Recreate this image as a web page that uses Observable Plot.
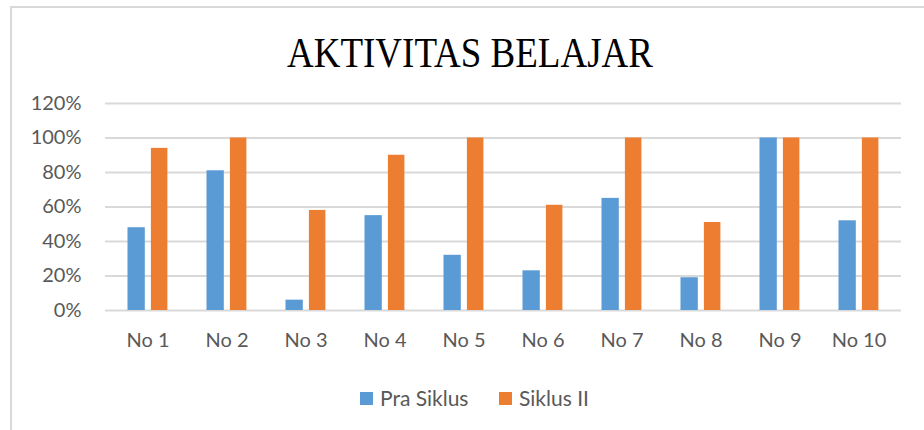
<!DOCTYPE html>
<html>
<head>
<meta charset="utf-8">
<script src="https://cdn.jsdelivr.net/npm/d3@7"></script>
<script src="https://cdn.jsdelivr.net/npm/@observablehq/plot@0.6"></script>
<style>
  html, body { margin: 0; padding: 0; background: #fff; width: 924px; height: 430px; overflow: hidden; }
  #frame { position: absolute; left: 10px; top: 6px; width: 1000px; height: 600px; border: 2px solid #d9d9d9; box-sizing: border-box; }
  #title { position: absolute; top: 36px; left: 470px; transform: translateX(-50%) scaleY(1.13); transform-origin: 50% 31px;
           font-family: "Liberation Serif", "Times New Roman", serif; font-size: 37px; line-height: 37px; color: #000; white-space: nowrap; }
  #chart { position: absolute; left: 0; top: 90px; }
  .leg { position: absolute; top: 388px; display: flex; align-items: center; font-family: Lato, sans-serif; font-size: 21px; color: #595959; line-height: 20px; }
  .sw { width: 13px; height: 13px; margin-right: 7px; }
</style>
</head>
<body>
<div id="frame"></div>
<div id="title">AKTIVITAS BELAJAR</div>
<div id="chart"></div>
<div id="legend"></div>
<script>
const categories = ["No 1", "No 2", "No 3", "No 4", "No 5", "No 6", "No 7", "No 8", "No 9", "No 10"];
const seriesNames = ["Pra Siklus", "Siklus II"];
const praSiklus = [0.48, 0.81, 0.06, 0.55, 0.32, 0.23, 0.65, 0.19, 1.00, 0.52];
const siklusII = [0.94, 1.00, 0.58, 0.90, 1.00, 0.61, 1.00, 0.51, 1.00, 1.00];
const colors = ["#5B9BD5", "#ED7D31"];
const yTicks = [0, 0.2, 0.4, 0.6, 0.8, 1.0, 1.2];

const pra = categories.map((c, i) => ({cat: c, value: praSiklus[i]}));
const sik = categories.map((c, i) => ({cat: c, value: siklusII[i]}));

const chart = Plot.plot({
  width: 924,
  height: 270,
  marginLeft: 105,
  marginRight: 23,
  marginTop: 13,
  marginBottom: 50,
  style: {fontFamily: "Lato, sans-serif", fontSize: "20px", color: "#595959", background: "transparent"},
  x: {domain: categories, padding: 0, label: null},
  y: {domain: [0, 1.2], ticks: yTicks, label: null},
  marks: [
    Plot.gridY(yTicks, {stroke: "#d9d9d9", strokeOpacity: 1, strokeWidth: 2}),
    Plot.axisY(yTicks, {tickSize: 0, tickPadding: 0, dx: -24, tickFormat: d3.format(".0%"), fill: "#595959", fontSize: 20, label: null}),
    Plot.axisX({tickSize: 0, tickPadding: 22, fill: "#595959", fontSize: 20, label: null}),
    Plot.barY(pra, {x: "cat", y: "value", fill: colors[0], insetLeft: 19.5, insetRight: 42.2}),
    Plot.barY(sik, {x: "cat", y: "value", fill: colors[1], insetLeft: 42.9, insetRight: 19.6})
  ]
});
document.getElementById("chart").appendChild(chart);

const legend = document.getElementById("legend");
const legX = [360, 499];
seriesNames.forEach((s, i) => {
  const d = document.createElement("div");
  d.className = "leg";
  d.style.left = legX[i] + "px";
  const sw = document.createElement("div");
  sw.className = "sw";
  sw.style.background = colors[i];
  const t = document.createElement("span");
  t.textContent = s;
  d.appendChild(sw);
  d.appendChild(t);
  legend.appendChild(d);
});
</script>
</body>
</html>
